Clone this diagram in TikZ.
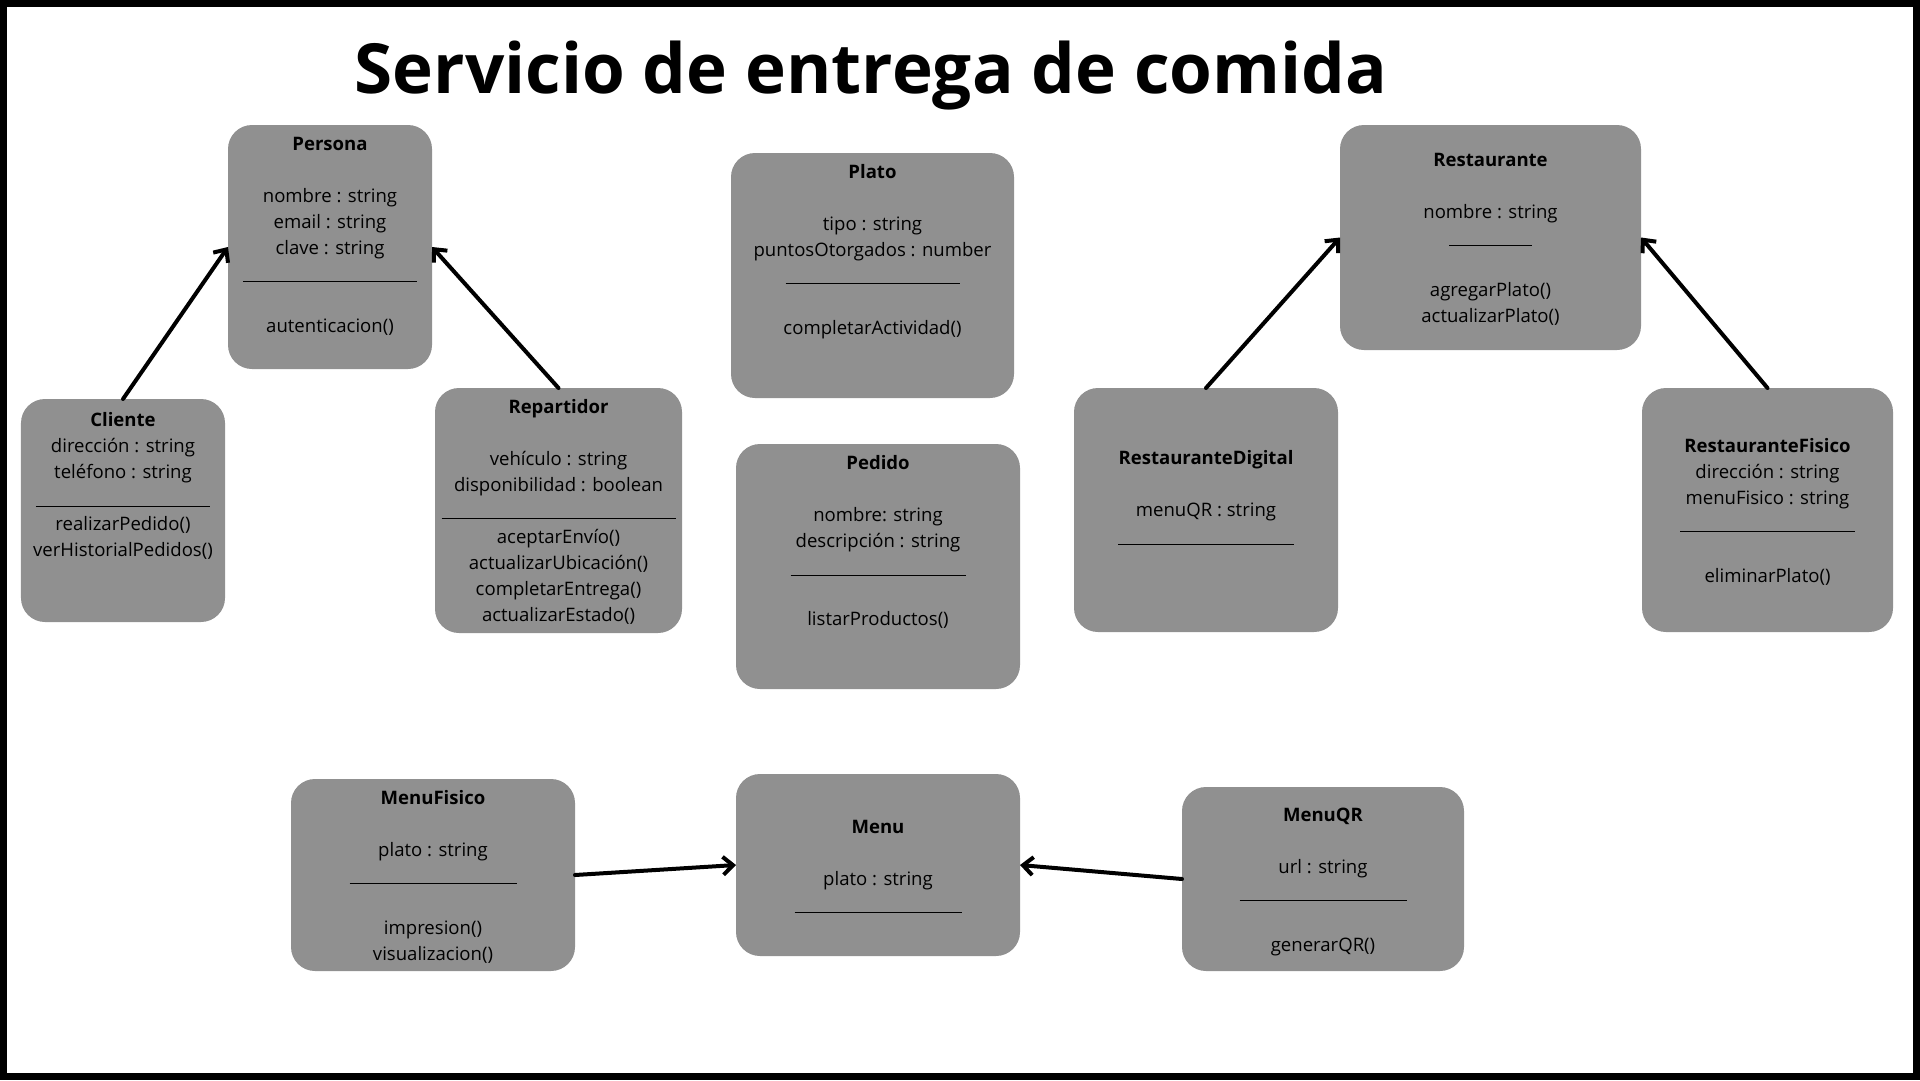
\documentclass[tikz,border=0pt]{standalone}
\usepackage{fontspec}
\usepackage{tikz}
\usetikzlibrary{arrows.meta,positioning}

\setmainfont{Open Sans}
\definecolor{boxgray}{RGB}{144,144,144}
\newcommand{\bodyfont}{\fontsize{13.2}{18.5}\selectfont}
\newcommand{\titlefont}{\fontsize{49.2}{58}\selectfont\bfseries}
\newcommand{\hsep}[1]{\rule[-1.4pt]{#1}{0.8pt}}

\begin{document}
\begin{tikzpicture}[
        x=0.25mm, y=-0.25mm,
        classbox/.style={fill=boxgray, rounded corners=6mm, inner sep=0pt, outer sep=0pt},
        classtext/.style={inner sep=0pt, align=center, font=\bodyfont},
        inherit/.style={line width=1mm, line cap=round, -{Straight Barb[length=2.5mm, width=4.5mm]}}
    ]

    % Frame
    \useasboundingbox (0,0) rectangle (1920,1080);
    \fill[white] (0,0) rectangle (1920,1080);
    \draw[line width=1.75mm] (3.5,3.5) rectangle (1916.5,1076.5);

    \node[font=\titlefont, anchor=base, inner sep=0pt] (title) at (871,93) {Servicio de entrega de comida};

    % Nodes
    \node[classbox, minimum width=51mm, minimum height=61mm] (persona) at (330,247) {};
    \node[classtext, below=1.65mm of persona.north] (personatext) {\strut\textbf{Persona}\\ \\
        nombre : string\\ email : string\\ clave : string\\ \hsep{43.5mm}\\ \\ autenticacion()};

    \node[classbox, minimum width=51mm, minimum height=55.75mm] (cliente) at (123,510.5) {};
    \node[classtext, below=2.35mm of cliente.north] (clientetext) {\strut\textbf{Cliente}\\
        dirección : string\\ teléfono : string\\ \hsep{43.5mm}\\ realizarPedido()\\ verHistorialPedidos()};

    \node[classbox, minimum width=61.75mm, minimum height=61.25mm] (repartidor) at (558.5,510.5) {};
    \node[classtext, below=1.73mm of repartidor.north] (repartidortext) {\strut\textbf{Repartidor}\\ \\
        vehículo : string\\ disponibilidad : boolean\\ \hsep{58.5mm}\\
        aceptarEnvío()\\ actualizarUbicación()\\ completarEntrega()\\ actualizarEstado()};

    \node[classbox, minimum width=70.75mm, minimum height=61.25mm] (plato) at (872.5,275.5) {};
    \node[classtext, below=1.7mm of plato.north] (platotext) {\strut\textbf{Plato}\\ \\
        tipo : string\\ puntosOtorgados : number\\ \hsep{43.5mm}\\ \\ completarActividad()};

    \node[classbox, minimum width=71mm, minimum height=61.25mm] (pedido) at (878,566.5) {};
    \node[classtext, below=1.8mm of pedido.north] (pedidotext) {\strut\textbf{Pedido}\\ \\
        nombre: string\\ descripción : string\\ \hsep{43.75mm}\\ \\ listarProductos()};

    \node[classbox, minimum width=75.25mm, minimum height=56.25mm] (restaurante) at (1490.5,237.5) {};
    \node[classtext, below=5.65mm of restaurante.north] (restaurantetext) {\strut\textbf{Restaurante}\\ \\
        nombre : string\\ \hsep{20.75mm}\\ \\ agregarPlato()\\ actualizarPlato()};

    \node[classbox, minimum width=66mm, minimum height=61mm] (restdigital) at (1206,510) {};
    \node[classtext, below=14.6mm of restdigital.north] (restdigitaltext) {\strut\textbf{RestauranteDigital}\\ \\
        menuQR : string\\ \hsep{44mm}};

    \node[classbox, minimum width=62.75mm, minimum height=61mm] (restfisico) at (1767.5,510) {};
    \node[classtext, below=11.5mm of restfisico.north] (restfisicotext) {\strut\textbf{RestauranteFisico}\\
        dirección : string\\ menuFisico : string\\ \hsep{43.75mm}\\ \\ eliminarPlato()};

    \node[classbox, minimum width=71mm, minimum height=48mm] (menufisico) at (433,875) {};
    \node[classtext, below=1.63mm of menufisico.north] (menufisicotext) {\strut\textbf{MenuFisico}\\ \\
        plato : string\\ \hsep{41.75mm}\\ \\ impresion()\\ visualizacion()};

    \node[classbox, minimum width=71mm, minimum height=45.5mm] (menu) at (878,865) {};
    \node[classtext, below=10.2mm of menu.north] (menutext) {\strut\textbf{Menu}\\ \\
        plato : string\\ \hsep{41.75mm}};

    \node[classbox, minimum width=70.5mm, minimum height=46mm] (menuqr) at (1323,879) {};
    \node[classtext, below=3.9mm of menuqr.north] (menuqrtext) {\strut\textbf{MenuQR}\\ \\
        url : string\\ \hsep{41.75mm}\\ \\ generarQR()};

    % Edges
    \draw[inherit] (cliente.north) -- (persona.west);
    \draw[inherit] (repartidor.north) -- (persona.east);
    \draw[inherit] (restdigital.north) -- (restaurante.west);
    \draw[inherit] (restfisico.north) -- (restaurante.east);
    \draw[inherit] (menufisico.east) -- (menu.west);
    \draw[inherit] (menuqr.west) -- (menu.east);

\end{tikzpicture}
\end{document}
